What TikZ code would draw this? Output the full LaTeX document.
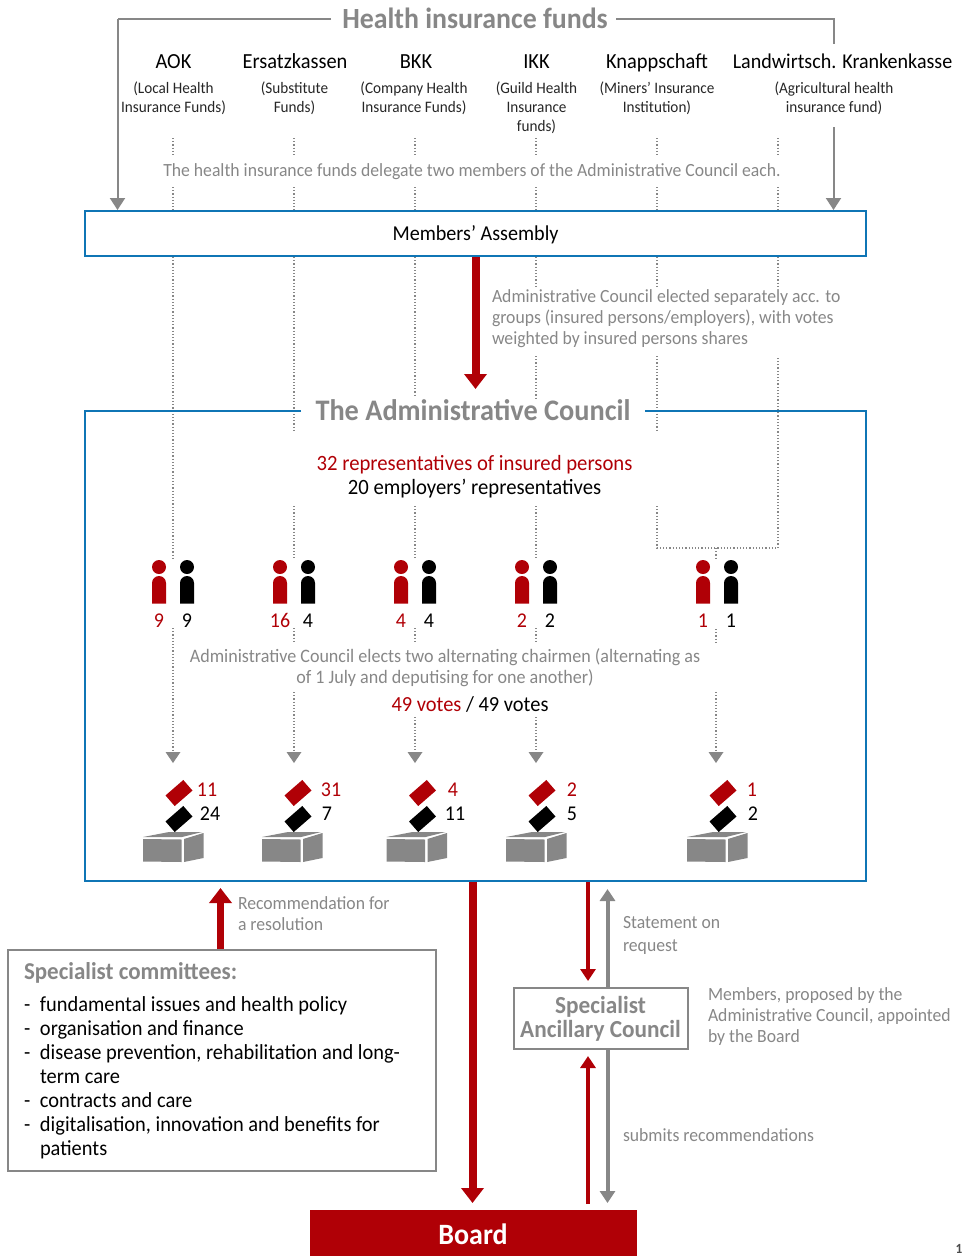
\documentclass[tikz,border=0pt]{standalone}
\usepackage{fontspec}
\setmainfont[FakeStretch=0.95]{Carlito}
\usetikzlibrary{arrows.meta}
\definecolor{cred}{HTML}{B00006}
\definecolor{cgrey}{HTML}{878787}
\definecolor{cblue}{HTML}{0F75B5}
\newcommand{\fs}[1]{\fontsize{#1}{#1}\selectfont}
\newcommand{\person}[3]{%
  \fill[#3] (#1,567) circle (7);
  \fill[#3] (#1-7,603.5) -- (#1-7,583) arc[start angle=180,end angle=360,radius=7] -- (#1+7,603.5) -- cycle;
  \node[count,text=#3] at (#1,621) {#2};}
\newcommand{\ballot}[1]{%
  \fill[cred,rotate around={41:(#1,793)}] (#1-11.8,786) rectangle (#1+11.8,800);
  \fill[black,rotate around={41:(#1,819)}] (#1-11.8,812) rectangle (#1+11.8,826);
  \fill[cgrey] (#1-36,839) -- (#1+2.5,839.5) -- (#1+2.5,862) -- (#1-36,861.5) -- cycle;
  \fill[cgrey] (#1+5,839) -- (#1+24.5,833) -- (#1+24.5,858) -- (#1+5,862) -- cycle;
  \fill[cgrey] (#1-36,837) -- (#1-10,832) -- (#1+23,832) -- (#1+3,837) -- cycle;}
\newcommand{\dotseg}[3]{%
  \coordinate (s#1a#2) at (#1,#2);
  \coordinate (s#1b#3) at (#1,#3);
  \draw[dotline] (s#1a#2) -- (s#1b#3);}
\newcommand{\dotarr}[3]{%
  \coordinate (s#1a#2) at (#1,#2);
  \coordinate (s#1b#3) at (#1,#3);
  \draw[dotline] (s#1a#2) -- (s#1b#3);
  \fill[cgrey] (#1-7.5,#3+2) -- (#1+7.5,#3+2) -- (#1,#3+13) -- cycle;}
\tikzset{
  txt/.style={inner sep=0pt,outer sep=0pt,align=center,anchor=center},
  fund/.style={txt,font=\fs{21.5},text height=15pt,text depth=5pt},
  sub/.style={txt,font=\fs{16},text=black!85,execute at begin node=\setlength{\baselineskip}{19pt}},
  note/.style={txt,font=\fs{18.6},text=cgrey,align=left,anchor=west,execute at begin node=\setlength{\baselineskip}{21pt}},
  count/.style={txt,font=\fs{21},text height=13pt,text depth=0pt},
  head/.style={txt,font=\fs{29.3}\bfseries,text=cgrey},
  dotline/.style={draw=cgrey,line width=1.2pt,dash pattern=on 1.2pt off 2pt},
  blue box/.style={draw=cblue,line width=2pt},
  grey box/.style={draw=cgrey,line width=2pt,fill=white},
  greyline/.style={draw=cgrey,line width=2pt},
  greytip/.style={-{Triangle[length=12pt,width=15pt]},line width=2pt,draw=cgrey},
  redthick/.style={draw=cred,line width=8pt,-{Triangle[length=15pt,width=22pt]}},
  redthin/.style={draw=cred,line width=4pt,-{Triangle[length=12pt,width=15pt]}},
  greythick/.style={draw=cgrey,line width=4pt,-{Triangle[length=12pt,width=15pt]}},
}
\begin{document}
\begin{tikzpicture}[x=1pt,y=-1pt]
\useasboundingbox (0,0) rectangle (964,1256);
\clip (0,0) rectangle (964,1256);
% dotted columns
\foreach \c in {173,294,415,536,657,778}{
  \dotseg{\c}{138}{155}
  \dotseg{\c}{187}{210}
}
\dotseg{173}{257}{558}
\dotseg{294}{257}{432}
\dotseg{415}{257}{396}
\dotseg{536}{257}{287}
\dotseg{657}{257}{287}
\dotseg{778}{257}{287}
\dotseg{536}{356}{398}
\dotseg{657}{356}{431}
\dotseg{294}{506}{558}
\dotseg{415}{506}{558}
\dotseg{536}{506}{558}
\coordinate (la) at (657,506); \coordinate (lb) at (657,548); \coordinate (lc) at (778,548); \coordinate (ld) at (778,356);
\draw[dotline] (la) -- (lb) -- (lc) -- (ld);
\dotseg{716}{548}{558}
\dotarr{173}{628}{750}
\dotseg{294}{628}{642}
\dotarr{294}{692}{750}
\dotseg{415}{628}{642}
\dotarr{415}{717}{750}
\dotseg{536}{628}{642}
\dotarr{536}{717}{750}
\dotseg{716}{629}{642}
\dotarr{716}{692}{750}

% boxes
\node[blue box,fill=white,minimum width=781pt,minimum height=45pt,inner sep=0pt] (assembly) at (475.5,233.5) {};
\node[txt,font=\fs{21.2}] (assemblyt) at (475.5,234.5) {Members’ Assembly};
\coordinate (cTL) at (301,411); \coordinate (c1) at (85,411); \coordinate (c2) at (85,881); \coordinate (c3) at (866,881); \coordinate (c4) at (866,411); \coordinate (cTR) at (645,411);
\draw[blue box] (cTL) -- (c1) -- (c2) -- (c3) -- (c4) -- (cTR);

% header
\node[head] (hif) at (475,18) {Health insurance funds};
\coordinate (a0) at (331,19); \coordinate (a1) at (117.5,19); \coordinate (a2) at (117.5,210);
\draw[greyline] (a0) -- (a1);
\draw[greytip] (a1) -- (a2);
\coordinate (b0) at (616,19); \coordinate (b1) at (833.5,19); \coordinate (b2) at (833.5,44); \coordinate (b3) at (833.5,127); \coordinate (b4) at (833.5,210);
\draw[greyline] (b0) -- (b1) -- (b2);
\draw[greytip] (b3) -- (b4);

% funds
\node[fund] (f1) at (173.5,63.5) {AOK};
\node[fund] (f2) at (295,63.5) {Ersatzkassen};
\node[fund] (f3) at (416,63.5) {BKK};
\node[fund] (f4) at (536.5,63.5) {IKK};
\node[fund] (f5) at (657,63.5) {Knappschaft};
\node[fund,font=\fs{21.1}] (f6) at (842.5,63.5) {Landwirtsch. Krankenkasse};
\node[sub,anchor=north] (g1) at (173.5,82) {(Local Health\\Insurance Funds)};
\node[sub,anchor=north] (g2) at (294.5,82) {(Substitute\\Funds)};
\node[sub,anchor=north] (g3) at (414,82) {(Company Health\\Insurance Funds)};
\node[sub,anchor=north] (g4) at (536.5,82) {(Guild Health\\Insurance\\funds)};
\node[sub,anchor=north] (g5) at (657,82) {(Miners’ Insurance\\Institution)};
\node[sub,anchor=north] (g6) at (834,82) {(Agricultural health\\insurance fund)};
\node[note,anchor=center] (n1) at (472,172) {The health insurance funds delegate two members of the Administrative Council each.};

% assembly to council
\node[head,font=\fs{29.8}\bfseries] (coun) at (473,410) {The Administrative Council};
\coordinate (ra) at (475.5,257); \coordinate (rb) at (475.5,389);
\draw[redthick] (ra) -- (rb);
\node[note,anchor=north west] (n2) at (492,290) {Administrative Council elected separately acc. to\\groups (insured persons/employers), with votes\\weighted by insured persons shares};
\node[txt,font=\fs{21.8},text=cred] (r1) at (474.5,465) {32 representatives of insured persons};
\node[txt,font=\fs{21.8}] (r2) at (474.5,489) {20 employers’ representatives};

% people
\person{159}{9}{cred} \person{187}{9}{black}
\person{280}{16}{cred} \person{308}{4}{black}
\person{401}{4}{cred} \person{429}{4}{black}
\person{522}{2}{cred} \person{550}{2}{black}
\person{703}{1}{cred} \person{731}{1}{black}

\node[note,font=\fs{19},anchor=center,align=center] (n3) at (445,668) {Administrative Council elects two alternating chairmen (alternating as\\of 1 July and deputising for one another)};
\node[txt,font=\fs{21.5}] (v1) at (470,704) {\textcolor{cred}{49 votes} / 49 votes};

% ballots
\ballot{179} \ballot{298} \ballot{422.5} \ballot{542} \ballot{723}
\foreach \x/\a/\xb/\b in {207/11/210/24, 331/31/327/7, 453/4/455/11, 572/2/572/5, 752/1/753/2}{
  \node[count,text=cred] at (\x,790) {\a};
  \node[count] at (\xb,814) {\b};
}

% committees
\node[grey box,minimum width=428pt,minimum height=221pt,inner sep=0pt] (comm) at (222,1060.5) {};
\node[txt,anchor=west,font=\fs{24.2}\bfseries,text=cgrey] (commt) at (24,973) {Specialist committees:};
\node[txt,anchor=north west,align=left,font=\fs{21.5},execute at begin node=\setlength{\baselineskip}{24pt}] (list) at (24,997) {%
\makebox[16pt][l]{-}fundamental issues and health policy\\
\makebox[16pt][l]{-}organisation and finance\\
\makebox[16pt][l]{-}disease prevention, rehabilitation and long-\\
\makebox[16pt][l]{}term care\\
\makebox[16pt][l]{-}contracts and care\\
\makebox[16pt][l]{-}digitalisation, innovation and benefits for\\
\makebox[16pt][l]{}patients};
\coordinate (ct) at (220.5,888);
\draw[draw=cred,line width=7pt,-{Triangle[length=15pt,width=22pt]}] (comm.north -| ct) -- (ct);
\node[note,anchor=north west] (n4) at (238,897) {Recommendation for\\a resolution};

% ancillary
\node[grey box,minimum width=174pt,minimum height=61pt,inner sep=0pt] (anc) at (600.5,1018.5) {};
\node[txt,font=\fs{24.5}\bfseries,text=cgrey,execute at begin node=\setlength{\baselineskip}{24pt}] (anct) at (600.5,1019) {Specialist\\Ancillary Council};
\node[note,anchor=north west] (n5) at (708,988) {Members, proposed by the\\Administrative Council, appointed\\by the Board};
\node[note,anchor=north west,execute at begin node=\setlength{\baselineskip}{23pt}] (n6) at (623,916) {Statement on\\request};
\node[note] (n7) at (623,1135.5) {submits recommendations};

% board
\node[fill=cred,minimum width=327pt,minimum height=46pt,inner sep=0pt] (board) at (473.5,1233) {};
\node[txt,font=\fs{29.5}\bfseries,text=white] (boardt) at (473,1234) {Board};
\coordinate (d1) at (472.5,882); \coordinate (d2) at (472.5,1203);
\draw[redthick] (d1) -- (d2);
\coordinate (e1) at (588,882); \coordinate (e2) at (588,981);
\draw[redthin] (e1) -- (e2);
\coordinate (e3) at (588,1204); \coordinate (e4) at (588,1056);
\draw[redthin] (e3) -- (e4);
\coordinate (h1) at (607.5,988); \coordinate (h2) at (607.5,889);
\draw[greythick] (h1) -- (h2);
\coordinate (h3) at (607.5,1049); \coordinate (h4) at (607.5,1203);
\draw[greythick] (h3) -- (h4);
\node[txt,font=\fs{14}\bfseries,text=black!70] (pg) at (959,1249) {1};
\end{tikzpicture}
\end{document}
